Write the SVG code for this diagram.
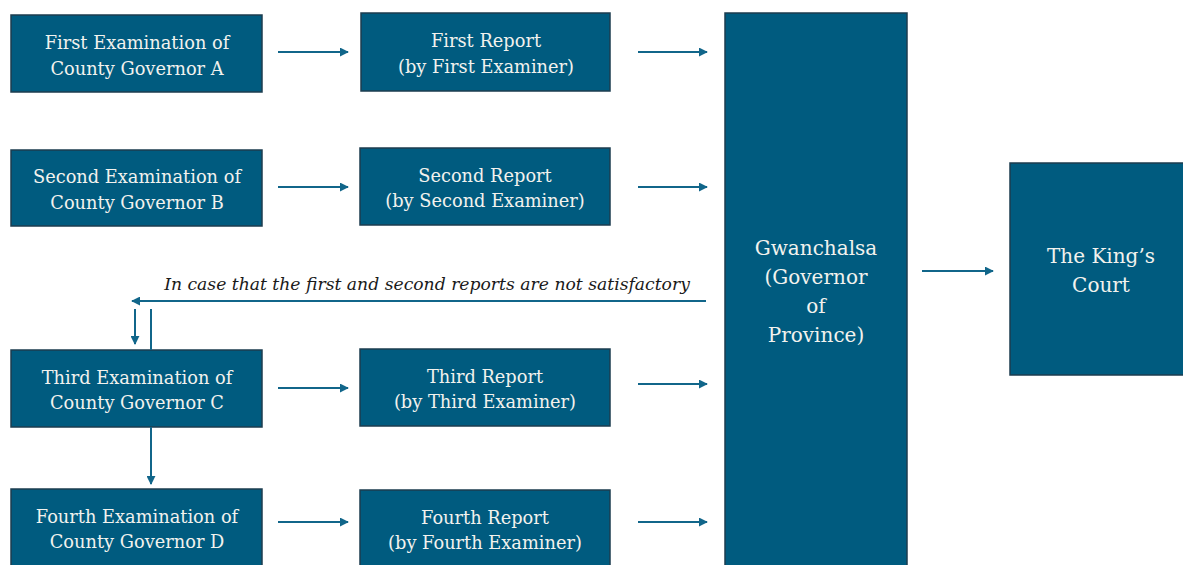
<svg xmlns="http://www.w3.org/2000/svg" width="1183" height="565" viewBox="0 0 1183 565">
  <defs>
    <style>
      .box { fill: #005b7f; stroke: #1c3d4f; stroke-width: 1.5; }
      .lbl { fill: #f2f2ee; font-family: "DejaVu Serif", "Liberation Serif", serif; font-size: 17.8px; text-anchor: middle; }
      .big { font-size: 20px; }
      .edge { stroke: #11668a; stroke-width: 2; fill: none; }
      .note { fill: #1a1a1a; font-family: "DejaVu Serif", "Liberation Serif", serif; font-style: italic; font-size: 17.2px; text-anchor: middle; }
    </style>
    <marker id="ah" viewBox="0 0 10 10" refX="9" refY="5" markerWidth="4.5" markerHeight="4.5" orient="auto">
      <path d="M0,0 L10,5 L0,10 z" fill="#11668a"/>
    </marker>
  </defs>
  <rect width="1183" height="565" fill="#ffffff"/>

  <g id="exam-a">
    <rect class="box" x="11" y="15" width="251" height="77"/>
    <text class="lbl" x="137" y="49">First Examination of</text>
    <text class="lbl" x="137" y="75">County Governor A</text>
  </g>
  <g id="report-1">
    <rect class="box" x="361" y="13" width="249" height="78"/>
    <text class="lbl" x="486" y="47">First Report</text>
    <text class="lbl" x="486" y="73">(by First Examiner)</text>
  </g>
  <g id="exam-b">
    <rect class="box" x="11" y="150" width="251" height="76"/>
    <text class="lbl" x="137" y="183">Second Examination of</text>
    <text class="lbl" x="137" y="209">County Governor B</text>
  </g>
  <g id="report-2">
    <rect class="box" x="360" y="148" width="250" height="77"/>
    <text class="lbl" x="485" y="182">Second Report</text>
    <text class="lbl" x="485" y="207">(by Second Examiner)</text>
  </g>
  <g id="exam-c">
    <rect class="box" x="11" y="350" width="251" height="77"/>
    <text class="lbl" x="137" y="384">Third Examination of</text>
    <text class="lbl" x="137" y="409">County Governor C</text>
  </g>
  <g id="report-3">
    <rect class="box" x="360" y="349" width="250" height="77"/>
    <text class="lbl" x="485" y="383">Third Report</text>
    <text class="lbl" x="485" y="408">(by Third Examiner)</text>
  </g>
  <g id="exam-d">
    <rect class="box" x="11" y="489" width="251" height="80"/>
    <text class="lbl" x="137" y="523">Fourth Examination of</text>
    <text class="lbl" x="137" y="548">County Governor D</text>
  </g>
  <g id="report-4">
    <rect class="box" x="360" y="490" width="250" height="80"/>
    <text class="lbl" x="485" y="524">Fourth Report</text>
    <text class="lbl" x="485" y="549">(by Fourth Examiner)</text>
  </g>
  <g id="gwanchalsa">
    <rect class="box" x="725" y="13" width="182" height="560"/>
    <text class="lbl big" x="816" y="255">Gwanchalsa</text>
    <text class="lbl big" x="816" y="284">(Governor</text>
    <text class="lbl big" x="816" y="313">of</text>
    <text class="lbl big" x="816" y="342">Province)</text>
  </g>
  <g id="kings-court">
    <rect class="box" x="1010" y="163" width="180" height="212"/>
    <text class="lbl big" x="1101" y="263">The King’s</text>
    <text class="lbl big" x="1101" y="292">Court</text>
  </g>

  <g id="connectors">
    <line class="edge" x1="278" y1="52" x2="348" y2="52" marker-end="url(#ah)"/>
    <line class="edge" x1="638" y1="52" x2="707" y2="52" marker-end="url(#ah)"/>
    <line class="edge" x1="278" y1="187" x2="348" y2="187" marker-end="url(#ah)"/>
    <line class="edge" x1="638" y1="187" x2="707" y2="187" marker-end="url(#ah)"/>
    <line class="edge" x1="278" y1="388" x2="348" y2="388" marker-end="url(#ah)"/>
    <line class="edge" x1="638" y1="384" x2="707" y2="384" marker-end="url(#ah)"/>
    <line class="edge" x1="278" y1="522" x2="348" y2="522" marker-end="url(#ah)"/>
    <line class="edge" x1="638" y1="522" x2="707" y2="522" marker-end="url(#ah)"/>
    <line class="edge" x1="922" y1="271" x2="993" y2="271" marker-end="url(#ah)"/>
    <!-- fallback path when the first two reports fall short -->
    <line class="edge" x1="706" y1="301" x2="132" y2="301" marker-end="url(#ah)"/>
    <line class="edge" x1="135" y1="309" x2="135" y2="344" marker-end="url(#ah)"/>
    <line class="edge" x1="151" y1="309" x2="151" y2="350"/>
    <line class="edge" x1="151" y1="427" x2="151" y2="484" marker-end="url(#ah)"/>
  </g>
  <text class="note" x="427" y="290">In case that the first and second reports are not satisfactory</text>
</svg>
